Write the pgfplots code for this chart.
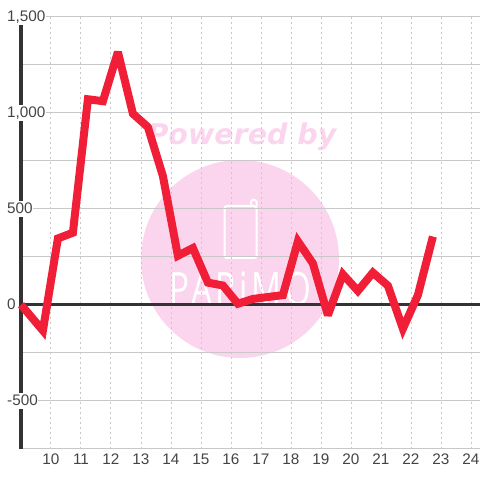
\documentclass[border=0pt]{standalone}
\usepackage{fontspec}
\setmainfont{Liberation Sans}
\newfontfamily\wmfont{DejaVu Sans}
\newfontfamily\logofont{Open Sans}[FakeStretch=0.72,LetterSpace=8]
\usepackage{pgfplots}
\pgfplotsset{compat=1.18}
\definecolor{linered}{HTML}{F01F37}
\definecolor{wmpink}{HTML}{FBD5EE}
\definecolor{gridgray}{HTML}{C8C8C8}
\definecolor{axisdark}{HTML}{333333}
\definecolor{labelgray}{HTML}{444444}
\pgfplotstableread{
x y
9.00 0
9.73 -135
10.23 345
10.73 375
11.23 1070
11.73 1060
12.23 1316
12.73 995
13.23 925
13.73 670
14.23 255
14.73 295
15.23 115
15.73 100
16.23 5
16.73 30
17.23 40
17.73 50
18.23 330
18.73 215
19.23 -55
19.73 158
20.23 72
20.73 167
21.23 99
21.73 -125
22.23 50
22.73 355
}\series
\begin{document}
\begin{tikzpicture}[x=1pt,y=1pt]
\useasboundingbox (-21,-31.3) rectangle (459,448.7);
% watermark, under the grid
\fill[wmpink] (219,189.7) circle (99);
\node[wmpink,font=\wmfont\bfseries\itshape\fontsize{28.5}{29}\selectfont,inner sep=0pt] at (221,311.7) {Powered by};
\draw[white,line width=2pt,rounded corners=2.5pt] (203.5,190.7) rectangle (235.5,242.7);
\draw[white,line width=2pt,rounded corners=1.5pt] (230,242.7) -- (230,248.7) -- (235.5,248.7) -- (235.5,242.7);
\node[white,font=\logofont\fontsize{46}{46}\selectfont,inner sep=0pt] at (219,160) {PAPiMO};
\begin{axis}[
    scale only axis,
    width=459pt, height=432pt,
    xmin=9, xmax=24.3,
    ymin=-750, ymax=1500,
    axis y line*=left,
    axis x line*=bottom,
    y axis line style={-,line width=3.4pt,color=axisdark},
    x axis line style={-,line width=1pt,color=gridgray},
    xtick={10,...,24},
    ytick={-500,0,500,1000,1500},
    yticklabels={-500,0,500,{1,000},{1,500}},
    minor ytick={-250,250,750,1250},
    xmajorgrids, ymajorgrids, yminorgrids,
    x grid style={gridgray,line width=1pt,dash pattern=on 2pt off 3pt},
    y grid style={gridgray,line width=1pt},
    minor grid style={gridgray,line width=1pt},
    major tick length=0pt, minor tick length=0pt,
    tick style={draw=none},
    ticklabel style={font=\fontsize{15.3}{15.3}\selectfont,text=labelgray},
    xticklabel style={yshift=-2pt},
    yticklabel style={anchor=west,xshift=-14.5pt,fill=white,inner sep=0.5pt,minimum height=16pt},
    /pgf/number format/assume math mode=true,
    clip=false,
]
\addplot[axisdark,line width=3.4pt,forget plot] coordinates {(9,0)(24.3,0)};
\addplot[linered,line width=8pt,miter limit=3,line join=miter] table[x=x,y=y] {\series};
\end{axis}
\end{tikzpicture}
\end{document}
